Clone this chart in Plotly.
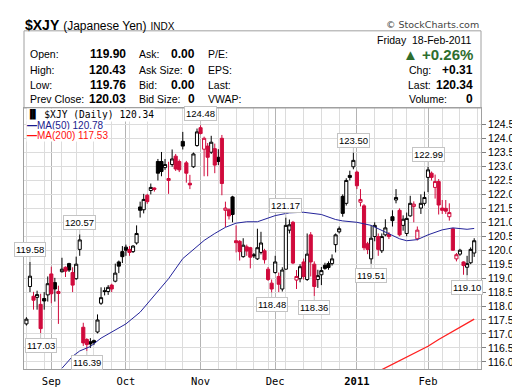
import plotly.graph_objects as go
import pandas as pd

# ---------------- data ----------------
holidays = ["2010-09-06", "2010-11-25", "2011-01-17"]
sessions = [d for d in pd.bdate_range("2010-08-23", "2011-02-18")
            if d.strftime("%Y-%m-%d") not in holidays]

opens = [117.36, 118.70, 118.35, 118.31, 118.06, 118.27, 118.40, 119.15, 118.84, 118.52,
         119.23, 119.39, 119.52, 119.20, 118.98, 120.03, 117.24, 116.80, 116.72, 116.76,
         117.07, 118.10, 118.55, 118.52, 118.75, 118.89, 119.58, 119.95, 120.11, 120.03,
         119.95, 120.26, 121.55, 121.45, 121.97, 122.14, 122.23, 123.18, 123.18, 122.96,
         122.57, 123.07, 123.37, 123.18, 123.90, 123.13, 122.40, 122.99, 123.75, 124.39,
         123.62, 123.73, 123.51, 123.64, 123.33, 124.01, 121.43, 121.45, 121.91, 120.34,
         120.32, 119.77, 120.12, 120.09, 119.84, 119.69, 119.92, 119.98, 119.32, 118.82,
         119.20, 119.06, 118.61, 119.32, 120.72, 121.00, 118.93, 118.98, 119.58, 118.95,
         120.55, 119.50, 118.95, 119.12, 119.46, 119.52, 119.52, 120.20, 120.66, 121.93,
         121.68, 122.68, 122.99, 122.80, 121.72, 121.59, 120.23, 119.69, 120.49, 120.49,
         119.98, 120.55, 120.57, 121.20, 121.80, 121.43, 120.89, 120.60, 121.23, 121.57,
         120.41, 121.51, 121.68, 122.61, 122.76, 122.25, 122.46, 121.51, 121.50, 121.20,
         120.77, 119.69, 119.86, 119.58, 119.39, 119.55, 119.90]
highs = [117.60, 119.58, 118.51, 118.55, 118.44, 118.50, 119.06, 119.41, 119.01, 118.73,
         119.73, 119.42, 119.55, 119.39, 119.77, 120.57, 117.40, 116.85, 116.85, 116.80,
         117.70, 118.67, 118.67, 118.75, 118.80, 119.52, 119.63, 120.15, 120.20, 120.15,
         120.18, 120.89, 121.74, 122.02, 122.02, 122.39, 122.25, 123.27, 123.52, 123.27,
         123.17, 123.61, 123.45, 123.25, 124.24, 123.20, 122.70, 123.50, 124.36, 124.48,
         124.07, 123.84, 124.10, 123.82, 123.62, 124.13, 121.74, 121.50, 121.95, 120.89,
         120.36, 120.43, 120.20, 120.12, 119.90, 120.77, 120.66, 120.05, 119.40, 118.95,
         119.80, 119.20, 119.39, 121.17, 121.10, 121.05, 119.29, 119.50, 119.70, 120.60,
         120.65, 119.60, 119.30, 119.40, 119.55, 119.60, 119.85, 120.60, 120.85, 122.00,
         122.58, 122.85, 123.50, 122.85, 122.19, 121.65, 120.30, 120.89, 121.00, 120.60,
         120.60, 121.11, 120.65, 121.43, 122.19, 121.50, 121.25, 121.35, 121.95, 121.75,
         120.85, 122.00, 122.10, 122.99, 122.82, 122.71, 122.55, 121.80, 121.80, 121.68,
         120.80, 119.90, 120.05, 119.60, 119.80, 120.10, 120.43]
lows = [117.30, 118.50, 117.87, 117.87, 117.03, 117.87, 118.16, 118.10, 118.16, 117.36,
        119.20, 119.04, 119.22, 118.50, 118.94, 119.80, 116.57, 116.39, 116.50, 116.60,
        117.02, 118.04, 118.38, 118.40, 118.50, 118.85, 119.18, 119.54, 119.80, 119.80,
        119.90, 120.20, 121.17, 121.32, 121.66, 122.00, 122.10, 122.50, 122.65, 122.88,
        122.02, 122.99, 122.84, 122.80, 123.61, 122.42, 122.19, 122.95, 123.71, 124.15,
        122.65, 122.65, 123.45, 122.76, 123.05, 121.97, 120.83, 121.10, 121.00, 119.92,
        119.63, 119.73, 119.80, 119.35, 119.72, 119.65, 119.85, 119.52, 118.90, 118.48,
        119.16, 118.50, 118.52, 119.30, 120.60, 119.50, 118.61, 118.85, 118.95, 118.90,
        119.06, 118.36, 118.65, 118.75, 119.30, 119.30, 119.45, 119.92, 120.60, 121.20,
        121.60, 122.50, 122.90, 122.19, 121.57, 120.00, 119.86, 119.51, 120.32, 119.80,
        119.90, 120.50, 120.40, 120.85, 121.68, 120.50, 120.70, 120.50, 121.20, 121.00,
        120.35, 121.30, 121.60, 122.08, 122.50, 121.85, 121.28, 121.30, 121.30, 121.06,
        119.98, 119.60, 119.80, 119.12, 119.10, 119.50, 119.76]
closes = [117.53, 119.07, 118.21, 118.41, 117.19, 118.18, 118.80, 118.44, 118.61, 118.45,
          119.32, 119.25, 119.29, 118.75, 119.50, 120.37, 116.68, 116.62, 116.64, 116.69,
          117.50, 118.30, 118.52, 118.67, 118.61, 119.18, 119.43, 119.77, 120.00, 119.92,
          120.15, 120.60, 121.43, 121.82, 121.74, 122.25, 122.18, 122.76, 122.82, 123.07,
          122.50, 123.27, 122.91, 122.88, 123.73, 122.76, 122.34, 123.45, 124.24, 124.18,
          124.01, 123.33, 123.87, 123.05, 123.18, 122.39, 121.51, 121.23, 121.28, 120.27,
          119.95, 120.18, 119.97, 119.75, 119.80, 120.09, 120.26, 119.66, 118.95, 118.61,
          119.58, 118.78, 119.29, 120.89, 120.91, 119.54, 119.06, 119.41, 119.06, 119.86,
          119.58, 118.70, 119.09, 119.27, 119.35, 119.38, 119.69, 120.55, 120.77, 121.32,
          122.50, 122.61, 123.22, 122.31, 121.82, 120.09, 120.03, 120.43, 120.89, 120.03,
          120.49, 120.80, 120.49, 121.06, 121.89, 120.55, 121.11, 121.14, 121.68, 121.65,
          120.72, 121.68, 121.89, 122.88, 122.61, 122.46, 121.62, 121.43, 121.40, 121.35,
          120.00, 119.84, 120.00, 119.45, 119.52, 120.03, 120.34]

ma50_dates = ["2010-09-07", "2010-09-10", "2010-09-14", "2010-09-17", "2010-09-22",
              "2010-09-28", "2010-10-01", "2010-10-07", "2010-10-13", "2010-10-19",
              "2010-10-25", "2010-11-02", "2010-11-05", "2010-11-10", "2010-11-15",
              "2010-11-18", "2010-11-23", "2010-12-01", "2010-12-07", "2010-12-13",
              "2010-12-20", "2010-12-24", "2010-12-28", "2011-01-03", "2011-01-07",
              "2011-01-13", "2011-01-20", "2011-01-24", "2011-01-27", "2011-02-01",
              "2011-02-07", "2011-02-10", "2011-02-14", "2011-02-16", "2011-02-18"]
ma50_vals = [115.77, 116.20, 116.39, 116.55, 116.85, 117.14, 117.36, 117.78, 118.38, 118.98,
             119.70, 120.35, 120.60, 120.82, 120.97, 121.02, 121.02, 121.24, 121.34, 121.36,
             121.28, 121.10, 121.05, 121.00, 120.89, 120.64, 120.41, 120.34, 120.38, 120.55,
             120.73, 120.80, 120.77, 120.75, 120.78]
ma200_dates = ["2011-01-12", "2011-01-24", "2011-02-01", "2011-02-04", "2011-02-10", "2011-02-18"]
ma200_vals = [115.72, 116.16, 116.56, 116.80, 117.10, 117.53]

label_high_dates = ["2010-08-24", "2010-09-14", "2010-11-01", "2010-12-06", "2010-12-31", "2011-02-01"]
label_low_dates = ["2010-08-27", "2010-09-16", "2010-11-30", "2010-12-16", "2011-01-07", "2011-02-16"]

y_ticks = [116.0 + 0.5 * k for k in range(18)]

# ---------------- styling ----------------
W, H = 520, 391
PL, PR, PT, PB = 16, 473, 100, 374
BLACK = "#000000"
RED = "#d00a3c"
GREEN = "#2e6e2e"
GRID = "#dcdcdc"
MGRID = "#b4b4b4"
FRAME = "#a0a0a0"
SANS = "Liberation Sans, Arial, sans-serif"
MONO = "DejaVu Sans Mono, monospace"

pos = {d.strftime("%Y-%m-%d"): i for i, d in enumerate(sessions)}
idx = list(range(len(sessions)))


def xp(px):
    return (px - PL) / (PR - PL)


def yp(py):
    return (PB - py) / (PB - PT)


fig = go.Figure()

# candles: black when close >= previous close, red otherwise
black_flag = [i == 0 or closes[i] >= closes[i - 1] for i in idx]
for flag, col in [(True, BLACK), (False, RED)]:
    sel = [i for i in idx if black_flag[i] == flag]
    fig.add_trace(go.Candlestick(
        x=sel,
        open=[opens[i] for i in sel], high=[highs[i] for i in sel],
        low=[lows[i] for i in sel], close=[closes[i] for i in sel],
        increasing=dict(line=dict(color=col, width=1), fillcolor="white"),
        decreasing=dict(line=dict(color=col, width=1), fillcolor=col),
        whiskerwidth=0, showlegend=False, hoverinfo="skip"))

fig.add_trace(go.Scatter(x=[pos[d] for d in ma50_dates], y=ma50_vals, mode="lines",
                         line=dict(color="#23239a", width=1), showlegend=False, hoverinfo="skip"))
fig.add_trace(go.Scatter(x=[pos[d] for d in ma200_dates], y=ma200_vals, mode="lines",
                         line=dict(color="#ff2020", width=1.3), showlegend=False, hoverinfo="skip"))

# axis ticks / grid positions from session calendar
month_starts = [i for i in idx if i > 0 and sessions[i].month != sessions[i - 1].month]
month_text = ["<b>%d</b>" % sessions[i].year if sessions[i].month == 1 else sessions[i].strftime("%b")
              for i in month_starts]
week_starts = [i for i in idx if i == 0 or sessions[i].isocalendar()[1] != sessions[i - 1].isocalendar()[1]]
week_starts.append(len(sessions))

x0 = month_starts[0] - (43.3 - PL) / 3.5538
x1 = month_starts[-1] + (PR - 420.0) / 3.5538

ann = []

# price callouts
for d in label_high_dates:
    i = pos[d]
    ann.append(dict(x=i, y=highs[i], xref="x", yref="y", text="%.2f" % highs[i],
                    showarrow=True, ax=0, ay=-12, arrowhead=0, arrowwidth=1, arrowcolor="#c4c4c4",
                    bordercolor="#c4c4c4", borderwidth=1, borderpad=1, bgcolor="white",
                    font=dict(family=SANS, size=9.5, color="#000")))
for d in label_low_dates:
    i = pos[d]
    ann.append(dict(x=i, y=lows[i], xref="x", yref="y", text="%.2f" % lows[i],
                    showarrow=True, ax=0, ay=12, arrowhead=0, arrowwidth=1, arrowcolor="#c4c4c4",
                    bordercolor="#c4c4c4", borderwidth=1, borderpad=1, bgcolor="white",
                    font=dict(family=SANS, size=9.5, color="#000")))


def txt(x, y, text, anchor="left", size=11, color="#000", family=SANS, bg=None):
    a = dict(x=xp(x), y=yp(y), xref="paper", yref="paper", text=text, showarrow=False,
             xanchor=anchor, yanchor="middle", font=dict(family=family, size=size, color=color))
    if bg:
        a["bgcolor"] = bg
        a["borderpad"] = 0
    ann.append(a)


last_o, last_h, last_l, last_c = opens[-1], highs[-1], lows[-1], closes[-1]
prev_c = closes[-2]
chg = last_c - prev_c
pct = chg / prev_c * 100

# title
txt(15, 13, "<b>$XJY</b> <span style='font-size:12px'>(Japanese Yen)</span> "
            "<span style='font-size:10px'>INDX</span>", size=14)
txt(473, 12, "\u00a9 StockCharts.com", anchor="right", size=9.5, color="#444",
    family="DejaVu Sans, sans-serif")

rows_y = [43, 60, 76, 91]
col1 = ["Open:", "High:", "Low:", "Prev Close:"]
col1v = [last_o, last_h, last_l, prev_c]
col2 = ["Ask:", "Ask Size:", "Bid:", "Bid Size:"]
col2v = ["0.00", "0", "0.00", "0"]
col3 = ["P/E:", "EPS:", "Last:", "VWAP:"]
for k, yy in enumerate(rows_y):
    txt(20, yy, col1[k], size=10.5)
    txt(120, yy, "<b>%.2f</b>" % col1v[k], anchor="right", size=12)
    txt(129, yy, col2[k], size=10.5)
    txt(189, yy, "<b>%s</b>" % col2v[k], anchor="right", size=12)
    txt(198, yy, col3[k], size=10.5)

txt(466, 29, sessions[-1].strftime("%A") + "\u00a0\u00a0" + sessions[-1].strftime("%d-%b-%Y"),
    anchor="right", size=10.5)
txt(467, 44, "<b>\u25b2 %+.2f%%</b>" % pct, anchor="right", size=15, color=GREEN)
txt(399, 60, "Chg:", size=10.5)
txt(467, 60, "<b>%+.2f</b>" % chg, anchor="right", size=12)
txt(398, 76, "Last:", size=10.5)
txt(467, 76, "<b>%.2f</b>" % last_c, anchor="right", size=12)
txt(399, 91, "Volume:", size=10.5)
txt(467, 91, "<b>0</b>", anchor="right", size=12)

# in-chart legend
txt(18, 107, "\u2590\u258c $XJY (Daily) %.2f" % last_c, size=9.6, family=MONO, bg="white")
txt(18, 118, "<b>\u2014</b>MA(50) %.2f" % ma50_vals[-1], size=10, color="#1a1a8c", bg="white")
txt(18, 129, "<b>\u2014</b>MA(200) %.2f" % ma200_vals[-1], size=10, color="#ff1010", bg="white")

shapes = [
    dict(type="rect", xref="paper", yref="paper", x0=0, x1=1, y0=1, y1=yp(19),
         line=dict(color=FRAME, width=1), fillcolor="rgba(0,0,0,0)", layer="above"),
]

fig.update_layout(
    width=W, height=H, autosize=False,
    margin=dict(l=PL, r=W - PR, t=PT, b=H - PB, pad=0),
    paper_bgcolor="white", plot_bgcolor="white",
    boxgap=0.12, boxgroupgap=0, boxmode="overlay",
    showlegend=False,
    annotations=ann, shapes=shapes,
    xaxis=dict(range=[x0, x1], rangeslider=dict(visible=False),
               tickmode="array", tickvals=month_starts, ticktext=month_text,
               ticks="", showgrid=True, gridcolor=MGRID, gridwidth=1,
               minor=dict(tickmode="array", tickvals=week_starts, showgrid=True,
                          gridcolor=GRID, gridwidth=1, ticks=""),
               showline=True, linecolor=FRAME, mirror=True, zeroline=False,
               tickfont=dict(family=MONO, size=10.5, color="#000"), ticklabelstandoff=2),
    yaxis=dict(range=[115.744, 125.096], side="right", tickmode="array",
               tickvals=y_ticks, ticktext=["%.1f" % v for v in y_ticks],
               ticks="outside", ticklen=4, tickcolor="#808080",
               showgrid=True, gridcolor=GRID, gridwidth=1,
               showline=True, linecolor=FRAME, mirror=True, zeroline=False,
               tickfont=dict(family=SANS, size=10.5, color="#000")),
)

fig.write_html("out.html")
